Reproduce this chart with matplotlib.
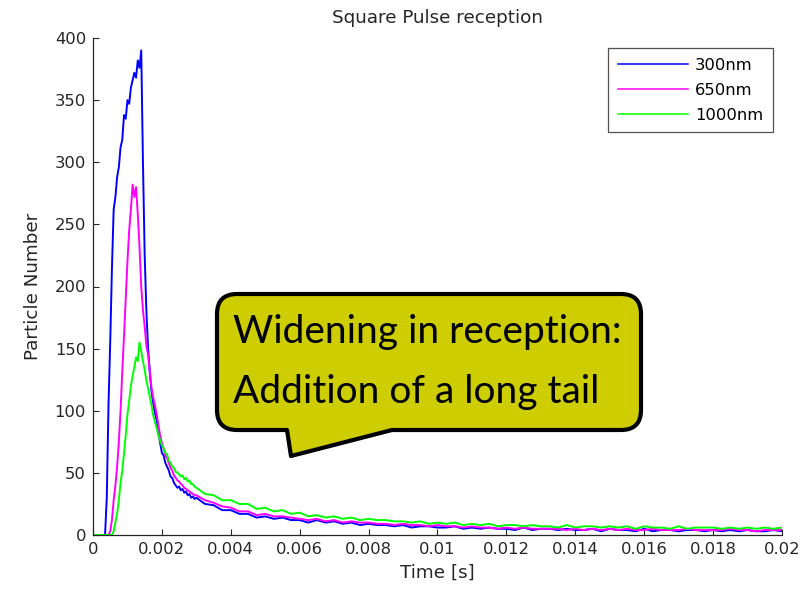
import numpy as np
import matplotlib
matplotlib.use('Agg')
import matplotlib.pyplot as plt
from matplotlib.path import Path
from matplotlib.patches import PathPatch

# Time bases: fine sampling around the pulse, coarser over the tail
t_head = np.linspace(0.0003, 0.00295, 54)
t_tail = np.linspace(0.003, 0.02, 69)

labels = ['300nm', '650nm', '1000nm']
colors = ['#0000ff', '#ff00ff', '#00ff00']

# 300nm received particles
head_300 = [0, 0, 30, 105, 155, 215, 262, 272, 288, 296,
            312, 318, 338, 335, 350, 347, 360, 366, 372, 368,
            382, 376, 390, 300, 225, 180, 150, 130, 115, 106,
            98, 92, 82, 74, 66, 64, 58, 55, 52, 47,
            46, 42, 40, 38, 39, 36, 37, 34, 35, 32,
            33, 30, 31, 29]
tail_300 = [30, 25, 24, 20, 20, 17, 17, 14, 15, 13,
            14, 12, 12, 10, 12, 10, 11, 9, 10, 8,
            9, 8, 8, 7, 8, 6, 7, 7, 6, 6,
            7, 5, 6, 5, 6, 5, 5, 4, 6, 4,
            5, 5, 4, 5, 4, 4, 5, 3, 5, 4,
            4, 3, 5, 3, 4, 4, 3, 4, 4, 3,
            4, 3, 4, 3, 4, 3, 3, 4, 3]

# 650nm received particles
head_650 = [0, 0, 0, 0, 3, 12, 28, 40, 55, 75,
            100, 132, 160, 190, 220, 245, 262, 282, 272, 280,
            258, 232, 200, 181, 168, 152, 145, 132, 118, 110,
            104, 97, 88, 80, 74, 70, 64, 62, 58, 54,
            52, 48, 46, 44, 43, 41, 40, 38, 37, 36,
            35, 34, 33, 32]
tail_650 = [32, 28, 26, 23, 22, 19, 19, 16, 17, 15,
            15, 14, 13, 12, 13, 11, 12, 10, 11, 10,
            10, 9, 9, 8, 9, 8, 8, 7, 8, 7,
            7, 6, 7, 6, 6, 5, 6, 5, 6, 5,
            5, 5, 5, 4, 5, 4, 5, 4, 5, 4,
            5, 4, 4, 5, 4, 4, 4, 5, 4, 4,
            4, 4, 5, 4, 4, 3, 4, 4, 4]

# 1000nm received particles
head_1000 = [0, 0, 0, 0, 0, 0, 3, 10, 17, 28,
             42, 52, 66, 80, 97, 108, 120, 128, 135, 143,
             140, 155, 148, 140, 133, 124, 118, 111, 104, 96,
             91, 86, 80, 76, 72, 70, 66, 65, 60, 58,
             55, 54, 51, 50, 49, 47, 48, 45, 46, 43,
             44, 41, 41, 39]
tail_1000 = [38, 33, 32, 28, 28, 25, 25, 21, 22, 19,
             20, 17, 18, 15, 16, 14, 15, 13, 14, 12,
             13, 12, 12, 11, 11, 10, 11, 9, 10, 9,
             10, 8, 9, 8, 9, 7, 8, 8, 7, 8,
             7, 7, 6, 8, 6, 7, 7, 6, 7, 6,
             7, 5, 7, 6, 6, 5, 7, 5, 6, 6,
             6, 5, 6, 5, 6, 5, 6, 5, 6]

xticks = [0, 0.002, 0.004, 0.006, 0.008, 0.01, 0.012, 0.014, 0.016, 0.018, 0.02]
xtick_labels = ['0', '0.002', '0.004', '0.006', '0.008', '0.01',
                '0.012', '0.014', '0.016', '0.018', '0.02']
yticks = [0, 50, 100, 150, 200, 250, 300, 350, 400]

plt.rcParams['font.family'] = ['DejaVu Sans']
fs = 11.8
fs_label = 13.2
ink = '#262626'

W, H = 812, 589
fig = plt.figure(figsize=(W / 100, H / 100), dpi=100)
ax = fig.add_axes([93 / W, 1 - 535 / H, (782 - 93) / W, (535 - 38) / H])

time = np.concatenate([[0.0], t_head, t_tail])
series = [(head_300, tail_300), (head_650, tail_650), (head_1000, tail_1000)]
for (head, tail), lab, col in zip(series, labels, colors):
    vals = np.concatenate([[0.0], head, tail])
    ax.plot(time, vals, color=col, lw=1.4, label=lab)

ax.set_xlim(0, 0.02)
ax.set_ylim(0, 400)
ax.set_xticks(xticks)
ax.set_xticklabels(xtick_labels)
ax.set_yticks(yticks)
ax.tick_params(direction='in', length=4, width=0.8, labelsize=fs,
               colors=ink, pad=5)
for side in ['top', 'right']:
    ax.spines[side].set_visible(False)
for side in ['left', 'bottom']:
    ax.spines[side].set_linewidth(0.9)
    ax.spines[side].set_color(ink)

ax.set_title('Square Pulse reception', fontsize=fs_label, color=ink, pad=11)
ax.set_xlabel('Time [s]', fontsize=fs_label, color=ink, labelpad=5)
ax.set_ylabel('Particle Number', fontsize=fs_label, color=ink, labelpad=9)

leg = ax.legend(loc='upper right', bbox_to_anchor=(773 / W, 1 - 48 / H),
                bbox_transform=fig.transFigure, borderaxespad=0,
                fancybox=False, frameon=True, fontsize=fs,
                handlelength=4.3, handletextpad=0.4, labelspacing=0.6,
                borderpad=0.6)
leg.get_frame().set_edgecolor(ink)
leg.get_frame().set_linewidth(0.9)
for line in leg.get_lines():
    line.set_linewidth(1.1)


def px(x, y):
    return (x / W, 1 - y / H)


# speech bubble with a tail on the lower edge
x0, x1, y0, y1, r = 217, 641, 294, 430, 20
pts = [
    (px(x0 + r, y0), Path.MOVETO),
    (px(x1 - r, y0), Path.LINETO),
    (px(x1, y0), Path.CURVE3), (px(x1, y0 + r), Path.CURVE3),
    (px(x1, y1 - r), Path.LINETO),
    (px(x1, y1), Path.CURVE3), (px(x1 - r, y1), Path.CURVE3),
    (px(392, y1), Path.LINETO),
    (px(291, 456), Path.LINETO),
    (px(287, y1), Path.LINETO),
    (px(x0 + r, y1), Path.LINETO),
    (px(x0, y1), Path.CURVE3), (px(x0, y1 - r), Path.CURVE3),
    (px(x0, y0 + r), Path.LINETO),
    (px(x0, y0), Path.CURVE3), (px(x0 + r, y0), Path.CURVE3),
    (px(x0 + r, y0), Path.CLOSEPOLY),
]
verts, codes = zip(*pts)
bubble = PathPatch(Path(verts, codes), transform=fig.transFigure,
                   facecolor='#cdcd00', edgecolor='black', lw=3, joinstyle='round')
fig.patches.append(bubble)

fig.text(233 / W, 1 - 343 / H, 'Widening in reception:', fontsize=28,
         family=['Lato', 'DejaVu Sans'], va='baseline', ha='left', color='black')
fig.text(233 / W, 1 - 403 / H, 'Addition of a long tail', fontsize=28,
         family=['Lato', 'DejaVu Sans'], va='baseline', ha='left', color='black')

fig.savefig('out.png', dpi=100)
